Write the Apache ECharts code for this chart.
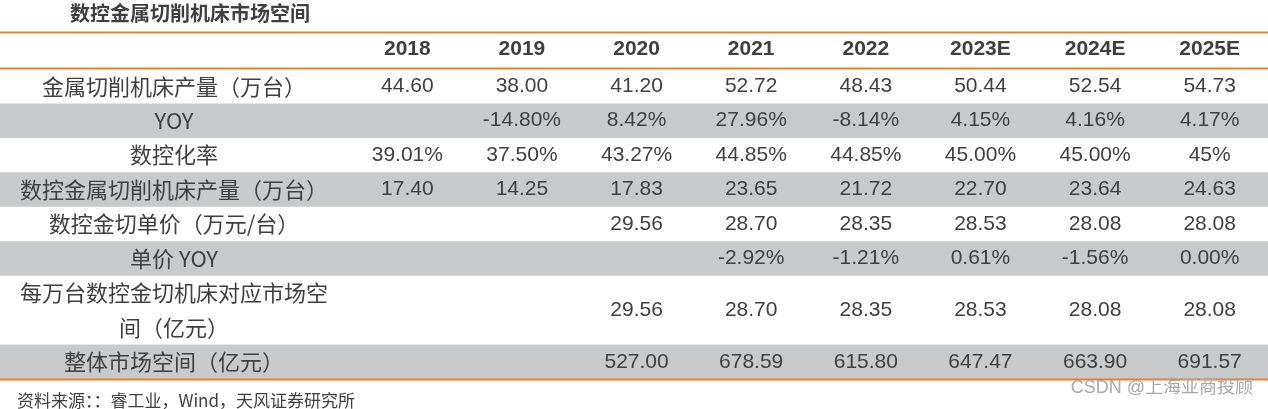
<!DOCTYPE html>
<html>
<head>
<meta charset="utf-8">
<script src="https://cdn.jsdelivr.net/npm/echarts@6/dist/echarts.min.js"></script>
<style>
html,body{margin:0;padding:0;background:#fff;}
#main{width:1268px;height:409px;}
</style>
</head>
<body>
<div id="main"></div>
<script>
// ---- data ----
const years = ['2018', '2019', '2020', '2021', '2022', '2023E', '2024E', '2025E'];
const rowLabels = [
  '金属切削机床产量（万台）',
  'YOY',
  '数控化率',
  '数控金属切削机床产量（万台）',
  '数控金切单价（万元/台）',
  '单价 YOY',
  '每万台数控金切机床对应市场空',
  '间（亿元）',
  '整体市场空间（亿元）'
];
const outputTotal   = ['44.60', '38.00', '41.20', '52.72', '48.43', '50.44', '52.54', '54.73'];
const outputYoy     = ['', '-14.80%', '8.42%', '27.96%', '-8.14%', '4.15%', '4.16%', '4.17%'];
const cncRate       = ['39.01%', '37.50%', '43.27%', '44.85%', '44.85%', '45.00%', '45.00%', '45%'];
const cncOutput     = ['17.40', '14.25', '17.83', '23.65', '21.72', '22.70', '23.64', '24.63'];
const cncPrice      = ['', '', '29.56', '28.70', '28.35', '28.53', '28.08', '28.08'];
const cncPriceYoy   = ['', '', '', '-2.92%', '-1.21%', '0.61%', '-1.56%', '0.00%'];
const marketPer10k  = ['', '', '29.56', '28.70', '28.35', '28.53', '28.08', '28.08'];
const marketTotal   = ['', '', '527.00', '678.59', '615.80', '647.47', '663.90', '691.57'];
const titleText  = '数控金属切削机床市场空间';
const sourceText = '资料来源：：睿工业，Wind，天风证券研究所';
const watermark  = 'CSDN @上海亚商投顾';

// ---- table structure (row -> category index on y axis) ----
const tableRows = [
  { cat: 0, vals: outputTotal },
  { cat: 1, vals: outputYoy },
  { cat: 2, vals: cncRate },
  { cat: 3, vals: cncOutput },
  { cat: 4, vals: cncPrice },
  { cat: 5, vals: cncPriceYoy },
  { cat: 6, vals: marketPer10k, span: 2 },
  { cat: 8, vals: marketTotal }
];
const shadedCats = [1, 3, 5, 8];

const cells = [];
tableRows.forEach(r => {
  r.vals.forEach((v, i) => {
    if (v !== '') cells.push({ value: [i, r.cat, r.span || 1], text: v });
  });
});

const TEXT = '#3f3f3f';
const GREY = '#c8c9cb';
const ORANGE = '#ef7f22';
const W = 1268;

const chart = echarts.init(document.getElementById('main'), null, { renderer: 'canvas' });
chart.setOption({
  backgroundColor: '#fff',
  animation: false,
  title: [
    {
      text: titleText, left: 70, top: 3, padding: 0,
      textStyle: { fontSize: 20, fontWeight: 'bold', color: TEXT, fontFamily: 'Noto Sans CJK SC' }
    },
    {
      text: sourceText, left: 12, top: 387,
      textStyle: { fontSize: 17, fontWeight: 'normal', color: TEXT, fontFamily: 'Noto Sans CJK SC' }
    }
  ],
  grid: { left: 350, right: 1, top: 69, bottom: 30, containLabel: false },
  xAxis: {
    type: 'category', position: 'top', data: years, z: 5,
    axisLine: { show: false }, axisTick: { show: false },
    axisLabel: {
      margin: 20, verticalAlign: 'middle', fontSize: 21, fontWeight: 'bold',
      color: TEXT, fontFamily: 'Liberation Sans'
    },
    splitLine: { show: false }
  },
  yAxis: {
    type: 'category', inverse: true, data: rowLabels, z: 5,
    axisLine: { show: false }, axisTick: { show: false },
    axisLabel: {
      margin: 176, align: 'center', fontSize: 22, color: TEXT,
      fontFamily: 'Noto Sans CJK SC'
    },
    splitLine: { show: false }
  },
  series: [
    {
      type: 'custom', z: 1, silent: true,
      data: shadedCats.map(c => [0, c]),
      renderItem: function (params, api) {
        const p = api.coord([0, api.value(1)]);
        const h = api.size([0, 1])[1];
        return {
          type: 'rect',
          shape: { x: 0, y: p[1] - h / 2, width: W, height: h },
          style: { fill: GREY }
        };
      }
    },
    {
      type: 'custom', z: 3, silent: true,
      data: cells.map(c => c.value),
      renderItem: function (params, api) {
        const cell = cells[params.dataIndex];
        const x = api.value(0), y = api.value(1), span = api.value(2);
        const p = api.coord([x, y]);
        let cy = p[1];
        if (span === 2) cy = (p[1] + api.coord([x, y + 1])[1]) / 2;
        return {
          type: 'text',
          x: p[0], y: cy,
          style: {
            text: cell.text, align: 'center', verticalAlign: 'middle',
            fontSize: 21, fontFamily: 'Liberation Sans', fill: TEXT
          }
        };
      }
    }
  ],
  graphic: [
    { type: 'line', shape: { x1: 0, y1: 32.5, x2: W, y2: 32.5 }, style: { stroke: ORANGE, lineWidth: 2 }, z: 10 },
    { type: 'line', shape: { x1: 0, y1: 68.5, x2: W, y2: 68.5 }, style: { stroke: ORANGE, lineWidth: 2 }, z: 10 },
    { type: 'line', shape: { x1: 0, y1: 379.5, x2: W, y2: 379.5 }, style: { stroke: ORANGE, lineWidth: 2 }, z: 10 },
    {
      type: 'text', right: 15, top: 379, z: 10,
      style: { text: watermark, fontSize: 18, fill: '#a9a9a9', fontFamily: 'Liberation Sans, Noto Sans CJK SC' }
    }
  ]
});
</script>
</body>
</html>
